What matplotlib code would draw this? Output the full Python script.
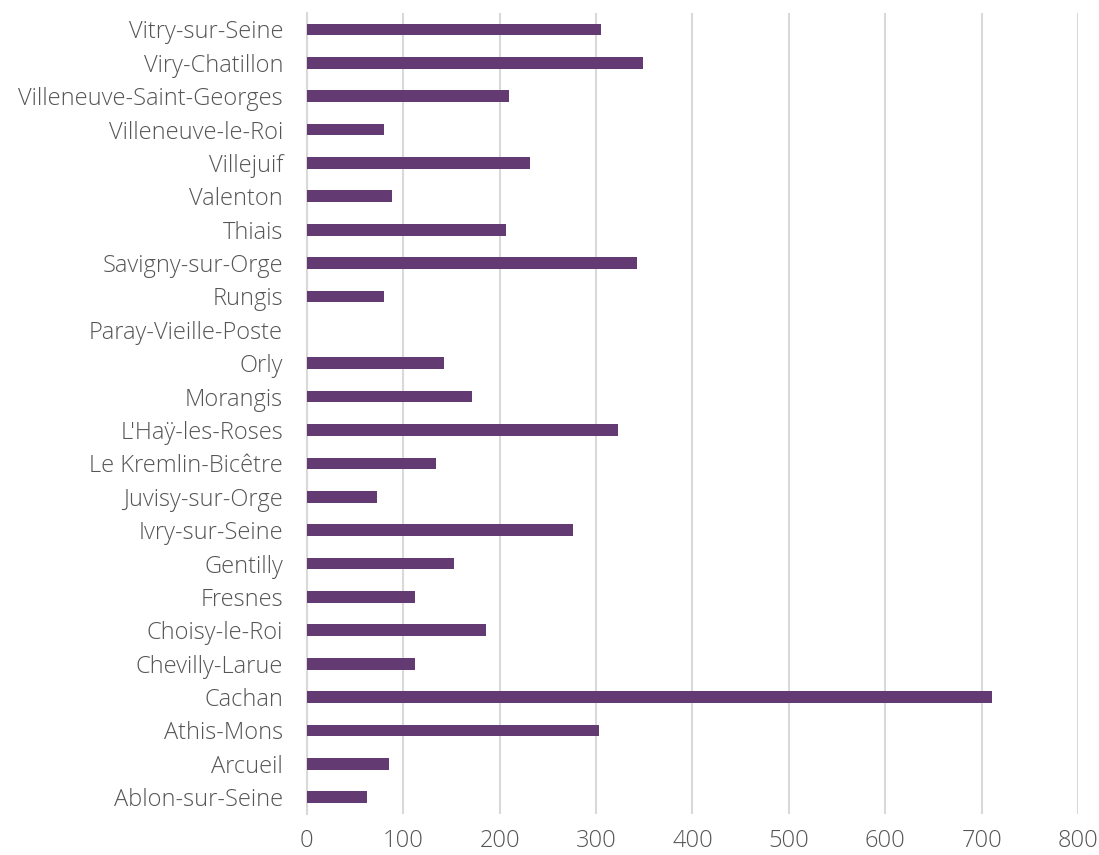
import matplotlib
matplotlib.use("Agg")
import matplotlib.pyplot as plt

communes = ["Vitry-sur-Seine", "Viry-Chatillon", "Villeneuve-Saint-Georges",
            "Villeneuve-le-Roi", "Villejuif", "Valenton", "Thiais",
            "Savigny-sur-Orge", "Rungis", "Paray-Vieille-Poste", "Orly",
            "Morangis", "L'Haÿ-les-Roses", "Le Kremlin-Bicêtre",
            "Juvisy-sur-Orge", "Ivry-sur-Seine", "Gentilly", "Fresnes",
            "Choisy-le-Roi", "Chevilly-Larue", "Cachan", "Athis-Mons",
            "Arcueil", "Ablon-sur-Seine"]
values = [305, 349, 210, 80, 231, 88, 207, 342, 80, 0, 142, 171, 323, 134,
          73, 276, 153, 112, 186, 112, 711, 303, 85, 63]
xticks = [0, 100, 200, 300, 400, 500, 600, 700, 800]

plt.rcParams['font.family'] = ['Open Sans', 'DejaVu Sans']

fig = plt.figure(figsize=(10.99, 8.55), dpi=100)
ax = fig.add_axes([0.2791, 0.048, 0.702, 0.9372])

n = len(communes)
ypos = [n - 1 - i for i in range(n)]
ax.barh(ypos, values, height=0.35, color='#643A72', zorder=3)

ax.set_ylim(-0.5, n - 0.5)
ax.set_xlim(0, 800)
ax.set_yticks(ypos)
ax.set_yticklabels(communes, fontsize=17, color='#555555', fontweight='light')
ax.set_xticks(xticks)
ax.set_xticklabels([str(v) for v in xticks], fontsize=17, color='#555555', fontweight='light')
ax.tick_params(axis='both', length=0)
ax.tick_params(axis='y', pad=17)
ax.tick_params(axis='x', pad=11)
ax.xaxis.grid(True, color='#d9d9d9', linewidth=1.5, zorder=0)
ax.yaxis.grid(False)
for s in ['top', 'right', 'bottom']:
    ax.spines[s].set_visible(False)
ax.spines['left'].set_color('#d9d9d9')
ax.spines['left'].set_linewidth(1.5)

fig.savefig("out.png", dpi=100)
